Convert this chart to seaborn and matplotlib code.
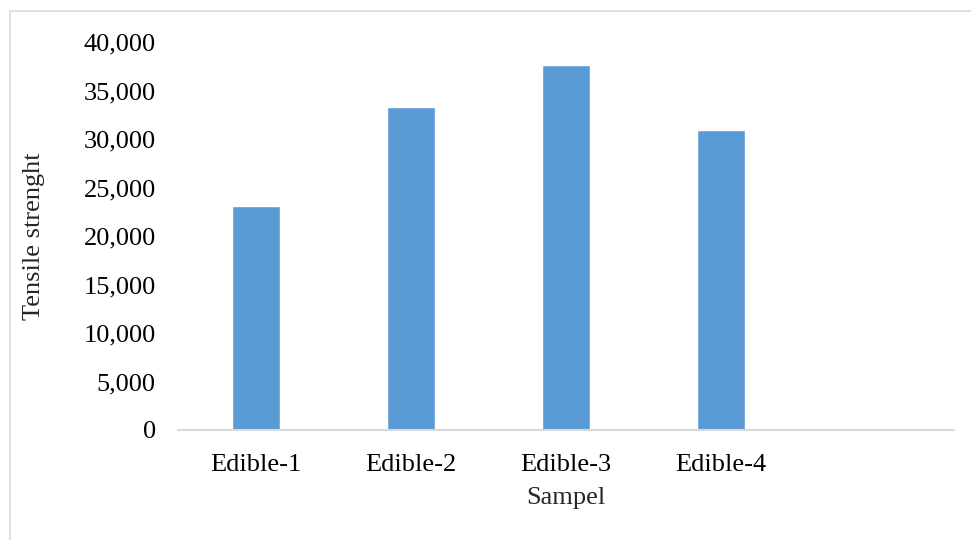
import matplotlib.pyplot as plt
import seaborn as sns
import pandas as pd
from matplotlib.patches import Rectangle
from matplotlib.ticker import FuncFormatter

# data
samples = ["Edible-1", "Edible-2", "Edible-3", "Edible-4"]
tensile = [23050, 33250, 37600, 30900]

sns.set_style("white")
plt.rcParams["font.family"] = ["Liberation Serif", "DejaVu Serif"]

df = pd.DataFrame({"Sampel": samples, "Tensile strenght": tensile})

fig = plt.figure(figsize=(9.71, 5.40), dpi=100)
ax = fig.add_axes([178 / 971, 1 - 430 / 540, 776 / 971, 388 / 540])

sns.barplot(data=df, x="Sampel", y="Tensile strenght", color="#5b9bd5",
            width=0.31, saturation=1, ax=ax)

# 5 category slots in the original, last one empty
ax.set_xlim(-0.5, 4.5)
ax.set_ylim(0, 40000)
ax.set_yticks(range(0, 40001, 5000))
ax.yaxis.set_major_formatter(FuncFormatter(lambda v, p: f"{int(v):,}"))

for s in ["top", "right", "left"]:
    ax.spines[s].set_visible(False)
ax.spines["bottom"].set_color("#d9d9d9")
ax.spines["bottom"].set_linewidth(1.5)
ax.tick_params(axis="both", length=0, labelsize=19, colors="black")
ax.tick_params(axis="y", pad=16)
ax.tick_params(axis="x", pad=17)

ax.set_xlabel("Sampel", fontsize=19, labelpad=8)
ax.set_ylabel("Tensile strenght", fontsize=19)
ax.yaxis.set_label_coords(-0.172, 0.5)

# light frame round the chart area
fig.patches.append(Rectangle((10 / 971, -0.1), 1.1, 1 - 11 / 540 + 0.1,
                             transform=fig.transFigure, fill=False,
                             edgecolor="#d9d9d9", linewidth=1.2))

fig.savefig("out.png", dpi=100)
